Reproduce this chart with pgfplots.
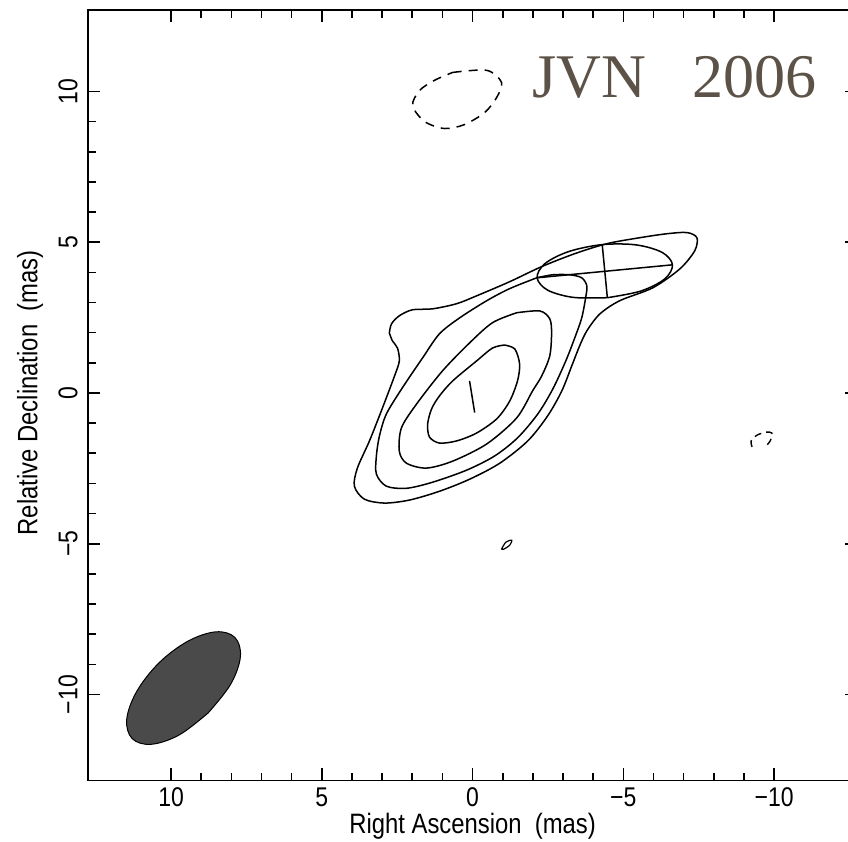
\documentclass[border=0pt]{standalone}
\usepackage{fontspec}
\setmainfont{Liberation Sans}
\newfontfamily\lblfont{Liberation Sans}[FakeStretch=0.85]
\newfontfamily\seriffont{Liberation Serif}
\usepackage{pgfplots}
\pgfplotsset{compat=1.18}
\definecolor{jvn}{RGB}{92,82,72}
\definecolor{beam}{RGB}{74,74,74}
\begin{document}
\begin{tikzpicture}
\begin{axis}[name=ax, scale only axis, width=383.8pt, height=384.6pt,
 x dir=reverse, xmin=-12.75, xmax=12.75, ymin=-12.85, ymax=12.7,
 xtick={-10,-5,0,5,10}, xticklabels={−10,−5,0,5,10},
 ytick={-10,-5,0,5,10}, yticklabels={−10,−5,0,5,10},
 xtick pos=both, ytick pos=both,
 minor tick num=4, tick align=inside, major tick length=6pt, minor tick length=3.8pt,
 tick style={black, line width=0.8pt},
 axis line style={line width=0.8pt},
 ticklabel style={font=\lblfont\fontsize{13.5}{16}\selectfont, inner sep=0pt},
 xticklabel style={yshift=-3.5pt, anchor=north},
 yticklabel style={xshift=-5pt, rotate=90, anchor=south},
 xlabel={Right Ascension\ \ (mas)}, ylabel={Relative Declination\ \ (mas)},
 every axis x label/.style={at={([yshift=-23pt]axis description cs:0.5,0)}, anchor=center, font=\lblfont\fontsize{14}{16}\selectfont},
 every axis y label/.style={at={([xshift=-29pt]axis description cs:0,0.503)}, anchor=center, rotate=90, font=\lblfont\fontsize{14}{16}\selectfont},
]
% restoring beam (filled)
\addplot[draw=black, fill=beam, line width=0.5pt, smooth, tension=0.6] coordinates {
(8.77,-10.61) (9.73,-11.34) (10.66,-11.65) (11.29,-11.46) (11.47,-10.82) (11.14,-9.90)
(10.40,-8.95) (9.44,-8.23) (8.51,-7.92) (7.88,-8.11) (7.70,-8.75) (8.03,-9.67) (8.77,-10.61)};
% contour 1 (outermost)
\addplot[black, line width=0.75pt, smooth, tension=0.5] coordinates {
(2.76,1.99) (2.69,2.29) (2.43,2.56) (1.99,2.76) (1.33,2.79) (0.53,2.96) (-0.13,3.22)
(-1.23,3.69) (-2.29,4.19) (-3.39,4.62) (-4.45,4.95) (-5.55,5.15) (-6.44,5.28) (-7.11,5.32)
(-7.44,5.15) (-7.37,4.72) (-6.88,4.12) (-5.98,3.49) (-4.88,3.06) (-4.22,2.62) (-3.79,2.06)
(-3.55,1.56) (-3.29,0.90) (-2.96,0.07) (-2.49,-0.76) (-1.83,-1.59) (-0.90,-2.33) (0.10,-2.86)
(1.10,-3.26) (2.09,-3.55) (2.92,-3.65) (3.59,-3.52) (3.92,-3.09) (3.82,-2.49) (3.42,-1.59)
(2.99,-0.50) (2.59,0.56) (2.43,1.06) (2.49,1.49) (2.66,1.73) (2.76,1.99)};
% contour 2
\addplot[black, line width=0.75pt, smooth, tension=0.5] coordinates {
(-2.13,3.82) (-2.66,3.92) (-3.22,3.92) (-3.62,3.82) (-3.79,3.55) (-3.75,3.16) (-3.62,2.49)
(-3.39,1.83) (-3.09,1.06) (-2.66,0.13) (-2.16,-0.70) (-1.49,-1.49) (-0.73,-2.09) (0.20,-2.56)
(1.33,-2.96) (2.19,-3.16) (2.86,-3.09) (3.19,-2.69) (3.19,-2.09) (3.09,-1.43) (2.86,-0.70)
(2.33,0.17) (1.66,1.16) (1.10,1.96) (0.43,2.49) (-0.47,3.06) (-1.23,3.46) (-2.13,3.82)};
% contour 3
\addplot[black, line width=0.75pt, smooth, tension=0.5] coordinates {
(-1.46,2.66) (-2.23,2.72) (-2.56,2.46) (-2.62,1.99) (-2.56,1.23) (-2.29,0.56) (-1.99,0.07)
(-1.46,-0.83) (-0.47,-1.69) (0.66,-2.26) (1.53,-2.49) (2.19,-2.33) (2.43,-1.93) (2.36,-1.16)
(1.86,-0.37) (1.00,0.73) (0.10,1.66) (-0.66,2.33) (-1.46,2.66)};
% contour 4
\addplot[black, line width=0.75pt, smooth, tension=0.5] coordinates {
(-1.06,1.59) (-1.40,1.46) (-1.56,0.96) (-1.49,0.40) (-1.23,-0.27) (-0.80,-0.86) (-0.13,-1.33)
(0.53,-1.59) (1.10,-1.66) (1.43,-1.46) (1.49,-1.03) (1.36,-0.53) (1.10,-0.10) (0.66,0.40)
(-0.13,1.06) (-0.66,1.49) (-1.06,1.59)};
% central component line
\addplot[black, line width=0.75pt] coordinates {(0.10,0.40) (-0.07,-0.65)};
% model component ellipse with cross
\addplot[black, line width=0.75pt, smooth, tension=0.55] coordinates {
(-4.47,3.16) (-3.34,3.17) (-2.49,3.41) (-2.14,3.82) (-2.40,4.29) (-3.19,4.69) (-4.30,4.92)
(-5.43,4.91) (-6.29,4.66) (-6.63,4.25) (-6.37,3.78) (-5.58,3.38) (-4.47,3.16)};
\addplot[black, line width=0.75pt] coordinates {(-2.14,3.82) (-6.63,4.25)};
\addplot[black, line width=0.75pt] coordinates {(-4.30,4.92) (-4.47,3.16)};
% negative contour (dashed)
\addplot[black, line width=0.75pt, smooth, tension=0.5, dash pattern=on 4.5pt off 3.5pt] coordinates {
(0.66,10.63) (-0.47,10.70) (-0.96,10.30) (-0.80,9.80) (-0.40,9.30) (0.27,8.90) (0.93,8.77)
(1.59,9.00) (1.99,9.53) (1.76,10.03) (1.26,10.37) (0.66,10.63)};
% small positive island
\addplot[black, line width=0.6pt, smooth, tension=0.5] coordinates {
(-0.96,-5.18) (-1.10,-4.95) (-1.30,-4.88) (-1.23,-5.05) (-1.03,-5.18) (-0.96,-5.18)};
% small negative island
\addplot[black, line width=0.7pt, smooth, tension=0.5, dash pattern=on 3.5pt off 2.5pt] coordinates {
(-9.27,-1.79) (-9.24,-1.59) (-9.43,-1.40) (-9.73,-1.30) (-9.93,-1.33) (-9.87,-1.59) (-9.70,-1.79)};
\node[anchor=base west, inner sep=0pt, text=jvn, font=\seriffont\fontsize{31}{34}\selectfont] at (axis cs:-1.96,9.80) {JVN\ \ \ 2006};
\end{axis}
\pgfresetboundingbox
\path[use as bounding box] ([shift={(-44pt,-30.5pt)}]ax.south west) rectangle ([shift={(-4.5pt,5pt)}]ax.north east);
\end{tikzpicture}
\end{document}
